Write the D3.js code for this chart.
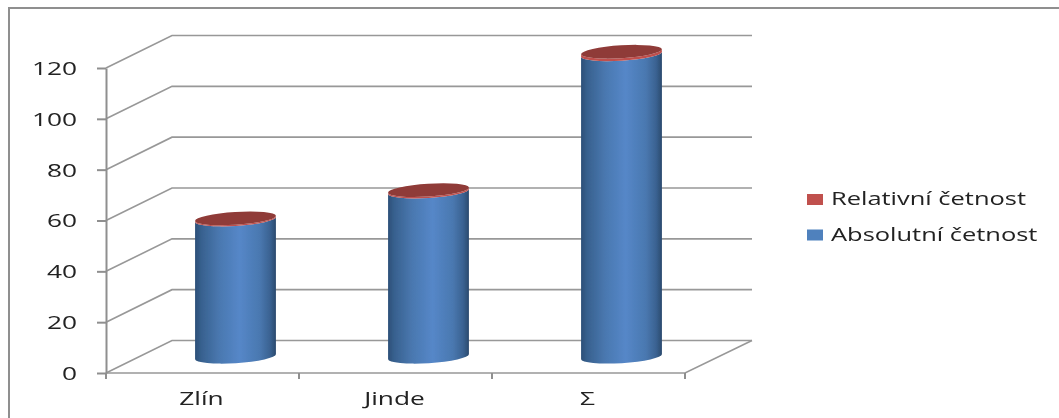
<!DOCTYPE html>
<html><head><meta charset="utf-8">
<script src="https://cdnjs.cloudflare.com/ajax/libs/d3/7.8.5/d3.min.js"></script>
<style>html,body{margin:0;padding:0;background:#fff}svg{display:block}
text{font-family:"Open Sans",sans-serif;fill:#222}</style></head>
<body><svg id="c" width="1059" height="418"></svg>
<script>
const categories = ["Zlín", "Jinde", "Σ"];
const absolutni = [54, 65, 119];
const relativni = [0.45, 0.55, 1];
const seriesNames = ["Relativní četnost", "Absolutní četnost"];
const yTicks = [0, 20, 40, 60, 80, 100, 120];

const svg = d3.select("#c");
const grey = "#8f8f8f";
const depthX = 66, depthY = 32.5;
const x = d3.scaleBand().domain(categories).range([106, 685]);
const y = d3.scaleLinear().domain([0, 120]).range([373, 68]);

const defs = svg.append("defs");
const blur = defs.append("filter").attr("id","soft").attr("x","-5%").attr("y","-20%").attr("width","110%").attr("height","140%");
blur.append("feGaussianBlur").attr("stdDeviation",0.5);
const blurLine = defs.append("filter").attr("id","softLine").attr("filterUnits","userSpaceOnUse")
  .attr("x",0).attr("y",0).attr("width",1059).attr("height",418);
blurLine.append("feGaussianBlur").attr("stdDeviation",0.4);
const grad = defs.append("linearGradient").attr("id","blueBody");
[[0,"#2b4f78"],[0.08,"#38618f"],[0.3,"#4a78b0"],[0.55,"#5587c8"],[0.8,"#4a78b0"],[0.93,"#3a6291"],[1,"#2a4a6e"]]
  .forEach(([o,c])=>grad.append("stop").attr("offset",o).attr("stop-color",c));

// outer frame
const frame = svg.append("g").attr("stroke",grey).attr("stroke-width",2).attr("fill","none").attr("filter","url(#softLine)");
frame.append("path").attr("d",d3.line()([[9,418],[9,8],[1059,8]]));

// gridlines on side and back walls
const backRight = 685 + depthX + 1;
const grid = svg.append("g").attr("fill","none").attr("stroke","#989898").attr("stroke-width",1.6).attr("filter","url(#softLine)");
grid.selectAll("path").data(yTicks).join("path")
  .attr("d", v => d3.line()([[106,y(v)],[106+depthX,y(v)-depthY],[backRight,y(v)-depthY]]));
grid.append("path").attr("d", d3.line()([[106,y(0)],[685,y(0)],[backRight,y(0)-depthY]]));

// axes
const yAxis = svg.append("g").attr("transform","translate(106,0)")
  .call(d3.axisLeft(y).tickValues(yTicks).tickSize(9).tickPadding(20).tickSizeOuter(0));
yAxis.selectAll("line,path").attr("stroke",grey).attr("stroke-width",2);
yAxis.selectAll("text").attr("font-size",18).attr("dy","0.36em").style("font-family",'"Open Sans",sans-serif').attr("fill","#222").attr("filter","url(#soft)").classed("wide",true);

const xAxis = svg.append("g").attr("transform","translate(0,373)")
  .call(d3.axisBottom(x).tickSize(0).tickPadding(19));
xAxis.select("path").attr("stroke","none");
xAxis.selectAll("text").attr("font-size",18).attr("dx",-1).style("font-family",'"Open Sans",sans-serif').attr("fill","#222").attr("filter","url(#soft)").classed("wide",true);
const tickEdges = [...categories.map(c=>x(c)), x(categories[2])+x.bandwidth()];
svg.append("g").selectAll("line").data(tickEdges).join("line")
  .attr("x1",d=>d).attr("x2",d=>d).attr("y1",373).attr("y2",379)
  .attr("stroke",grey).attr("stroke-width",2);

// cylinders
const rx = 40.5, ry = 6.4, rot = -3.6;
const dx = rx*Math.cos(rot*Math.PI/180), dy = rx*Math.sin(rot*Math.PI/180);
function body(cx, y0, y1){
  return `M${cx-dx},${y0-dy} A${rx},${ry} ${rot} 0 0 ${cx+dx},${y0+dy} L${cx+dx},${y1+dy} A${rx},${ry} ${rot} 0 1 ${cx-dx},${y1-dy} Z`;
}
const cx = i => x(categories[i]) + x.bandwidth()/2 + depthX/2;
const cy = v => y(v) - depthY/2;
const bars = svg.append("g").attr("filter","url(#softLine)");
categories.forEach((c,i)=>{
  const top = absolutni[i]+relativni[i];
  bars.append("path").attr("d",body(cx(i),cy(0),cy(absolutni[i]))).attr("fill","url(#blueBody)");
  bars.append("path").attr("d",body(cx(i),cy(absolutni[i]),cy(top))).attr("fill","#c0504d");
  bars.append("ellipse").attr("cx",cx(i)).attr("cy",cy(top)).attr("rx",rx).attr("ry",ry)
    .attr("transform",`rotate(${rot} ${cx(i)} ${cy(top)})`).attr("fill","#8f3a37");
});

// legend
const legendColors = ["#c0504d","#4f81bd"];
const legend = svg.append("g");
seriesNames.forEach((n,i)=>{
  const base = 205 + i*35.5;
  legend.append("rect").attr("x",807).attr("y",base-11).attr("width",16).attr("height",11).attr("fill",legendColors[i]);
  legend.append("text").attr("x",831).attr("y",base).attr("font-size",18.5).attr("filter","url(#soft)").text(n);
});

// horizontally stretched lettering, as in the reference
svg.selectAll("text").each(function(){
  const t = d3.select(this), w = this.getComputedTextLength();
  const stretch = t.classed("wide") ? 1.46 : 1.375;
  t.attr("textLength", w*stretch).attr("lengthAdjust","spacingAndGlyphs");
});
</script></body></html>
